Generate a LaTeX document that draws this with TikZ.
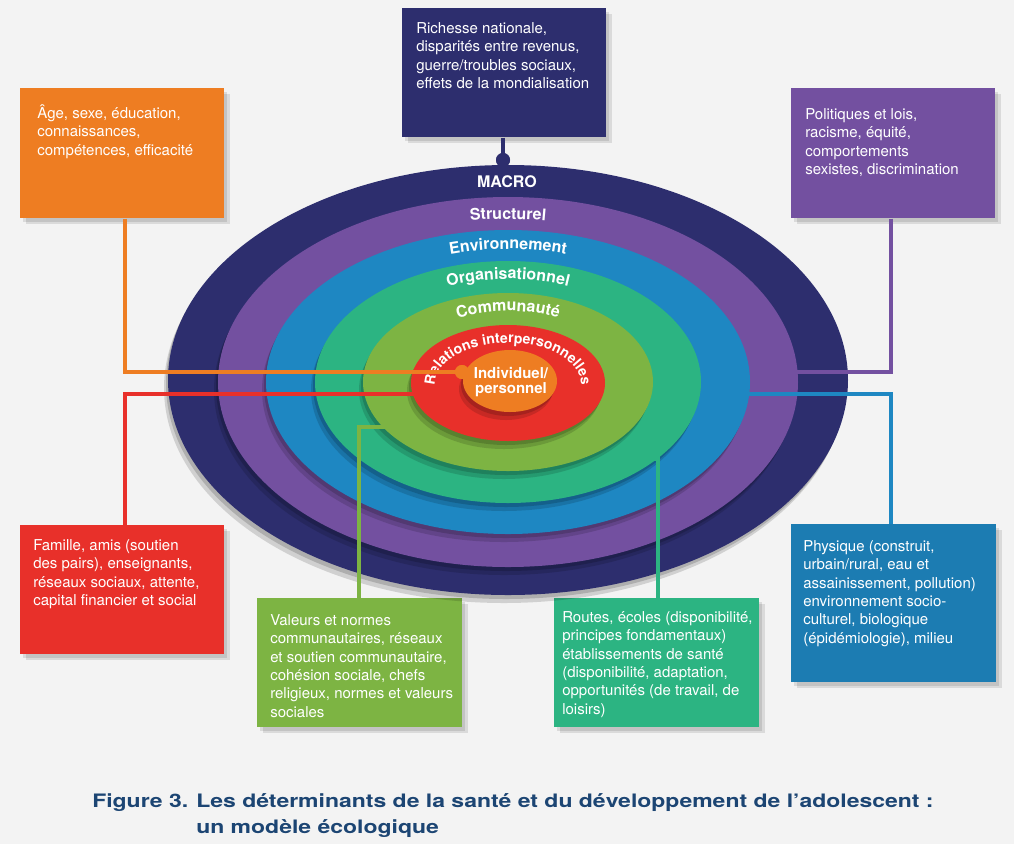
\documentclass[tikz,border=0pt]{standalone}
\usepackage{fontspec}
\setmainfont{TeX Gyre Heros}
\usetikzlibrary{decorations.text,calc}
\definecolor{navyc}{HTML}{2D2E6E}
\definecolor{purc}{HTML}{7350A0}
\definecolor{bluc}{HTML}{1E87C2}
\definecolor{tealc}{HTML}{2CB482}
\definecolor{grnc}{HTML}{7DB443}
\definecolor{redc}{HTML}{E8302A}
\definecolor{orac}{HTML}{EE7D22}
\definecolor{bgc}{HTML}{F3F3F3}
\definecolor{titc}{HTML}{1C4573}
\newcommand\btfont{\fontsize{11.25}{13.8}\selectfont}
\newcommand\rgfont{\fontsize{12}{14}\selectfont\bfseries}
\newcommand\rgfontb{\fontsize{10.6}{13}\selectfont\bfseries}
\newcommand\ttlfont{\fontsize{13.9}{16}\selectfont\bfseries}
\newcommand\tstrut{\rule{0pt}{10.5pt}}
\begin{document}
\begin{tikzpicture}[x=0.75pt,y=0.75pt,
  box/.style={anchor=north west, inner sep=0pt, rectangle,
    preaction={fill=black, opacity=0.10, transform canvas={xshift=4pt, yshift=-4.5pt}},
    preaction={fill=black, opacity=0.10, transform canvas={xshift=2pt, yshift=-2.5pt}}},
  btext/.style={anchor=north west, inner sep=0pt, align=left, text=white, font=\btfont},
  conn/.style={line width=3pt},
  dotn/.style={circle, inner sep=0pt, minimum size=10.5pt},
  rshadow/.style={
    preaction={fill=black, opacity=0.14, transform canvas={xshift=-3pt, yshift=-6pt}},
    preaction={fill=black, opacity=0.16, transform canvas={xshift=-1.5pt, yshift=-3pt}}},
  ringlabel/.style={decorate, decoration={text along path, text align=center, text color=white}},
  ttl/.style={anchor=base west, inner sep=0pt, font=\ttlfont, text=titc}
]
\useasboundingbox (0,0) rectangle (1014,-844);
\fill[bgc] (0,0) rectangle (1014,-844);

% boxes
\node[box, fill=navyc, minimum width=153pt, minimum height=96.75pt] (nbox) at (402,-8) {};
\node[box, fill=orac, minimum width=153pt, minimum height=97.5pt] (obox) at (20,-88) {};
\node[box, fill=purc, minimum width=153pt, minimum height=97.5pt] (pbox) at (791,-88) {};
\node[box, fill=redc, minimum width=153pt, minimum height=96.75pt] (rbox) at (20,-525) {};
\node[box, fill=grnc, minimum width=153.75pt, minimum height=96.75pt] (gbox) at (257,-598) {};
\node[box, fill=tealc, minimum width=153.75pt, minimum height=96.75pt] (tbox) at (554,-598) {};
\node[box, fill=bluc!92!black, minimum width=153.75pt, minimum height=118.5pt] (bbox) at (791,-524) {};

% rings
\coordinate (C) at (508,-382);
\fill[navyc, rshadow] (508,-380) ellipse [x radius=340, y radius=215];
\fill[purc, rshadow] (C) ellipse [x radius=290, y radius=185];
\fill[bluc, rshadow] (C) ellipse [x radius=242, y radius=152];
\fill[tealc, rshadow] (C) ellipse [x radius=193, y radius=121];
\fill[grnc, rshadow] (C) ellipse [x radius=145, y radius=89];
\fill[redc, rshadow] (508,-383) ellipse [x radius=97, y radius=58];
\fill[orac, rshadow] (510,-381) ellipse [x radius=47, y radius=31];

% ring labels
\node[font=\rgfont, text=white, anchor=base, inner sep=0pt] (macro) at (507,-187) {MACRO};
\path[ringlabel, decoration={text={|\rgfont|Structurel}}]
  ($(C)+(180:258 and 163)$) arc[start angle=180, end angle=0, x radius=258, y radius=163];
\path[ringlabel, decoration={text={|\rgfont|Environnement}}]
  ($(C)+(180:210 and 133)$) arc[start angle=180, end angle=0, x radius=210, y radius=133];
\path[ringlabel, decoration={text={|\rgfont|Organisationnel}}]
  ($(C)+(180:163 and 103)$) arc[start angle=180, end angle=0, x radius=163, y radius=103];
\path[ringlabel, decoration={text={|\rgfont|Communauté}}]
  ($(C)+(180:115 and 71)$) arc[start angle=180, end angle=0, x radius=115, y radius=71];
\path[ringlabel, decoration={text={|\rgfontb|Relations interpersonnelles}}]
  ($(508,-384)+(205:73 and 41)$) arc[start angle=205, end angle=-25, x radius=73, y radius=41];
\node[font=\fontsize{11.25}{11.5}\selectfont\bfseries, text=white, align=center, inner sep=0pt] (indiv) at (511,-382) {Individuel/\\personnel};

% connectors
\node[dotn, fill=navyc] (ndot) at (503,-160) {};
\coordinate (oc) at (125,-372);
\node[dotn, fill=orac] (odot) at (462,-372) {};
\coordinate (rc) at (125,-394);
\node[dotn, fill=redc] (rdot) at (433,-394) {};
\coordinate (gc) at (359,-427);
\node[dotn, fill=grnc] (gdot) at (412,-427) {};
\coordinate (tc) at (658,-459);
\node[dotn, fill=tealc] (tdot) at (627,-459) {};
\coordinate (bc) at (891,-394);
\node[dotn, fill=bluc] (bdot) at (719,-394) {};
\coordinate (pc) at (891,-372);
\node[dotn, fill=purc] (pdot) at (768,-372) {};

\draw[conn, navyc] (nbox.south -| ndot) -- (ndot.center);
\draw[conn, orac] (obox.south -| oc) -- (oc) -- (odot.center);
\draw[conn, redc] (rbox.north -| rc) -- (rc) -- (rdot.center);
\draw[conn, grnc] (gbox.north -| gc) -- (gc) -- (gdot.center);
\draw[conn, tealc] (tbox.north -| tc) -- (tc) -- (tdot.center);
\draw[conn, bluc] (bbox.north -| bc) -- (bc) -- (bdot.center);
\draw[conn, purc] (pbox.south -| pc) -- (pc) -- (pdot.center);
\foreach \d/\c in {ndot/navyc, odot/orac, rdot/redc, gdot/grnc, tdot/tealc, bdot/bluc, pdot/purc}
  \fill[\c] (\d) circle [radius=7];

% box texts
\node[btext] (ntext) at (416,-19) {\tstrut Richesse nationale,\\ disparités entre revenus,\\ guerre/troubles sociaux,\\ effets de la mondialisation};
\node[btext] (otext) at (37,-104) {\tstrut Âge, sexe, éducation,\\ connaissances,\\ compétences, efficacité};
\node[btext] (ptext) at (805,-105) {\tstrut Politiques et lois,\\ racisme, équité,\\ comportements\\ sexistes, discrimination};
\node[btext] (rtext) at (33,-536) {\tstrut Famille, amis (soutien\\ des pairs), enseignants,\\ réseaux sociaux, attente,\\ capital financier et social};
\node[btext] (gtext) at (270,-611) {\tstrut Valeurs et normes\\ communautaires, réseaux\\ et soutien communautaire,\\ cohésion sociale, chefs\\ religieux, normes et valeurs\\ sociales};
\node[btext] (ttext) at (562,-608) {\tstrut Routes, écoles (disponibilité,\\ principes fondamentaux)\\ établissements de santé\\ (disponibilité, adaptation,\\ opportunités (de travail, de\\ loisirs)};
\node[btext] (btext) at (803,-537) {\tstrut Physique (construit,\\ urbain/rural, eau et\\ assainissement, pollution)\\ environnement socio-\\ culturel, biologique\\ (épidémiologie), milieu};

% title
\node[ttl] (fig) at (92,-807) {\scalebox{1.24}[1]{Figure 3.}};
\node[ttl] (t1) at (196,-807) {\scalebox{1.24}[1]{Les déterminants de la santé et du développement de l’adolescent :}};
\node[ttl] (t2) at (196,-833) {\scalebox{1.24}[1]{un modèle écologique}};
\end{tikzpicture}
\end{document}
